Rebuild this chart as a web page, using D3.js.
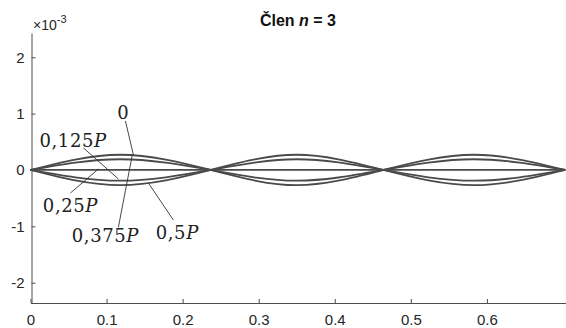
<!DOCTYPE html>
<html>
<head>
<meta charset="utf-8">
<script src="https://cdn.jsdelivr.net/npm/d3@7"></script>
<style>
  body { margin: 0; background: #fff; }
  svg { display: block; }
</style>
</head>
<body>
<div class="chart"></div>
<script>
// DATA ------------------------------
const xTicks = [0, 0.1, 0.2, 0.3, 0.4, 0.5, 0.6]
const yTicks = [-2, -1, 0, 1, 2]
const phases = ['0', '0,125P', '0,25P', '0,375P', '0,5P']
// amplitude of each phase curve, units of 10^-3
const amplitudes = [0.27, 0.19, 0, -0.19, -0.27]
// nodes and antinodes of the n = 3 mode along x
const nodeX = [0, 0.237, 0.464, 0.703]
const peakX = [0.118, 0.35, 0.583]
const peakSign = [1, -1, 1]
// label anchors (data units) and leader lines for each phase
const labelX = [0.122, 0.056, 0.0525, 0.0985, 0.193]
const labelY = [0.906, 0.409, -0.746, -1.279, -1.226]
const leaderFrom = [[0.1248, 0.87], [0.0696, 0.391], [0.0525, -0.409], [0.1156, -1.012], [0.1878, -0.888]]
const leaderTo = [[0.1353, 0.266], [0.1156, -0.16], [0.0893, 0.018], [0.134, 0.28], [0.155, -0.231]]

const W = 566, H = 328

// CHART INIT ------------------------------
const svg = d3.select('.chart')
    .append('svg')
    .attr('width', W)
    .attr('height', H)
    .style('font-family', 'Liberation Sans, Arial, sans-serif')

const xScale = d3.scaleLinear()
    .domain([0, 0.704])
    .range([30.5, 566])

const yScale = d3.scaleLinear()
    .domain([-2.36, 2.43])
    .range([303, 33])

// x axis
const xAxis = d3.axisBottom(xScale)
    .tickValues(xTicks)
    .tickSize(-4)
    .tickPadding(11)
    .tickSizeOuter(0)
    .tickFormat(d3.format('~g'))

svg.append('g')
    .attr('class', 'axis x-axis')
    .attr('transform', `translate(0, ${yScale(-2.36)})`)
    .call(xAxis)

// y axis
const yAxis = d3.axisLeft(yScale)
    .tickValues(yTicks)
    .tickSize(-4)
    .tickPadding(7)
    .tickSizeOuter(0)
    .tickFormat(d => d)

svg.append('g')
    .attr('class', 'axis y-axis')
    .attr('transform', `translate(${xScale(0) + 1}, 0)`)
    .call(yAxis)

svg.selectAll('.axis path, .axis line')
    .attr('stroke', '#4d4d4d')
svg.selectAll('.axis text')
    .attr('fill', '#262626')
    .style('font-size', '15px')
    .style('font-family', 'Liberation Sans, Arial, sans-serif')

// exponent
const expo = svg.append('text')
    .attr('x', 33)
    .attr('y', 30)
    .attr('fill', '#262626')
    .style('font-size', '14px')
expo.append('tspan').text('×10')
expo.append('tspan').attr('dy', -7).style('font-size', '11px').text('-3')

// title
const title = svg.append('text')
    .attr('x', 298)
    .attr('y', 26)
    .attr('text-anchor', 'middle')
    .attr('fill', '#111')
    .style('font-size', '16px')
    .style('font-weight', 'bold')
title.append('tspan').text('Člen ')
title.append('tspan').style('font-style', 'italic').text('n')
title.append('tspan').text(' = 3')

// CURVES ------------------------------
const line = d3.line()
    .x(d => xScale(d[0]))
    .y(d => yScale(d[1]))
    .curve(d3.curveNatural)

amplitudes.forEach(a => {
    const pts = []
    nodeX.forEach((nx, i) => {
        pts.push([nx, 0])
        if (i < peakX.length) pts.push([peakX[i], a * peakSign[i]])
    })
    svg.append('path')
        .datum(pts)
        .attr('fill', 'none')
        .attr('stroke', '#4a4a4a')
        .attr('stroke-width', 1.8)
        .attr('d', line)
})

// ANNOTATIONS ------------------------------
phases.forEach((p, i) => {
    svg.append('line')
        .attr('x1', xScale(leaderFrom[i][0]))
        .attr('y1', yScale(leaderFrom[i][1]))
        .attr('x2', xScale(leaderTo[i][0]))
        .attr('y2', yScale(leaderTo[i][1]))
        .attr('stroke', '#333')
        .attr('stroke-width', 0.9)

    const t = svg.append('text')
        .attr('x', xScale(labelX[i]))
        .attr('y', yScale(labelY[i]))
        .attr('text-anchor', 'middle')
        .attr('fill', '#222')
        .style('font-family', 'DejaVu Serif, Liberation Serif, serif')
        .style('font-size', '18px')
        .style('letter-spacing', '0.6px')
    if (p.endsWith('P')) {
        t.append('tspan').text(p.slice(0, -1))
        t.append('tspan').style('font-style', 'italic').text('P')
    } else {
        t.text(p)
    }
})
</script>
</body>
</html>
